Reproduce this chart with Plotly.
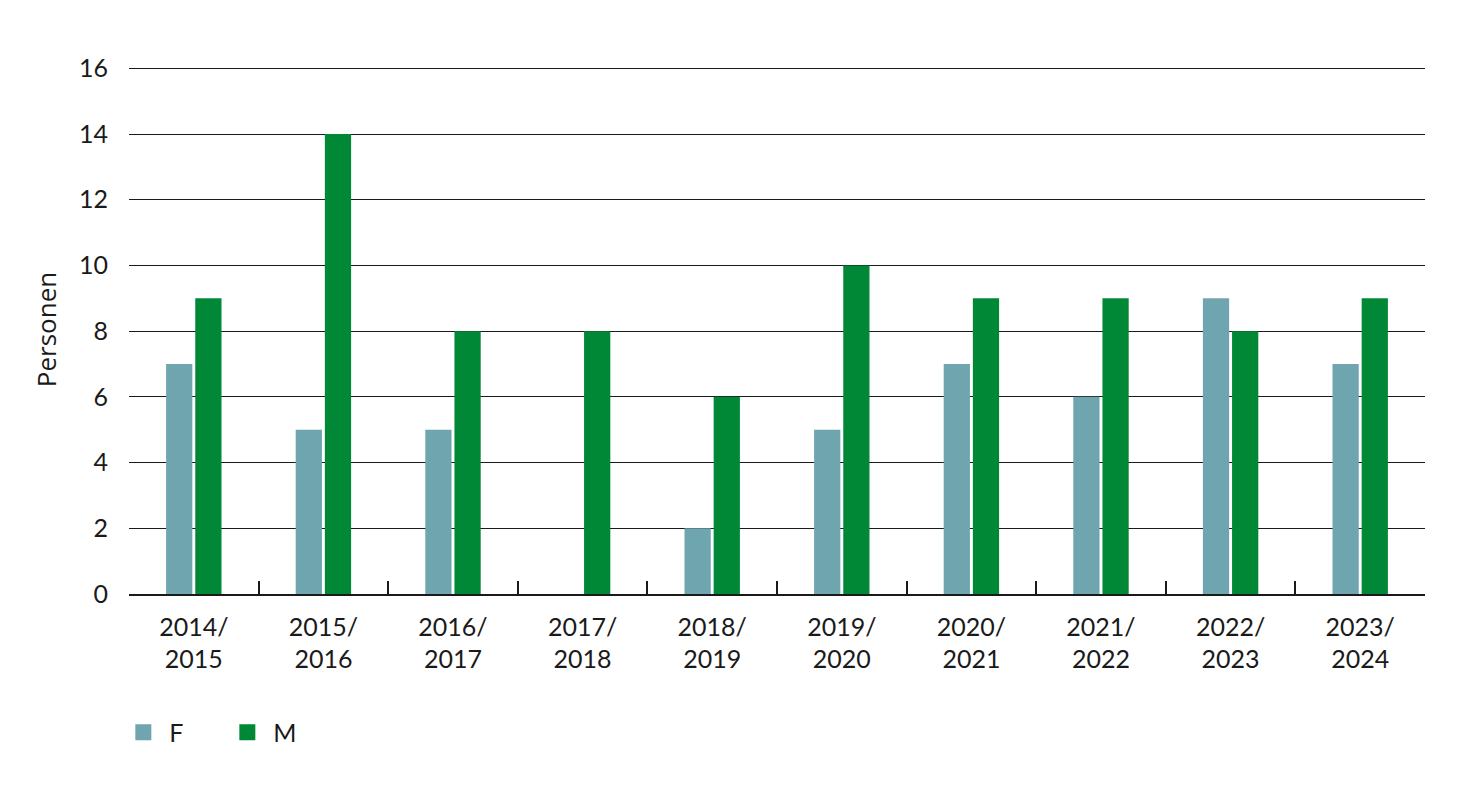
import plotly.graph_objects as go

categories = ["2014/<br>2015", "2015/<br>2016", "2016/<br>2017", "2017/<br>2018", "2018/<br>2019",
              "2019/<br>2020", "2020/<br>2021", "2021/<br>2022", "2022/<br>2023", "2023/<br>2024"]
f_values = [7, 5, 5, 0, 2, 5, 7, 6, 9, 7]
m_values = [9, 14, 8, 8, 6, 10, 9, 9, 8, 9]
y_ticks = [0, 2, 4, 6, 8, 10, 12, 14, 16]

F_COLOR = "#6fa5ae"
M_COLOR = "#008837"
FONT = "Lato, 'Open Sans', sans-serif"
FS = 25

fig = go.Figure()
fig.add_trace(go.Bar(x=categories, y=f_values, name="F", marker_color=F_COLOR,
                     marker_line_width=0, showlegend=False))
fig.add_trace(go.Bar(x=categories, y=m_values, name="M", marker_color=M_COLOR,
                     marker_line_width=0, showlegend=False))
# legend proxies with square markers
fig.add_trace(go.Scatter(x=[None], y=[None], mode="markers", name="F",
                         marker=dict(symbol="square", size=18, color=F_COLOR)))
fig.add_trace(go.Scatter(x=[None], y=[None], mode="markers", name="M",
                         marker=dict(symbol="square", size=18, color=M_COLOR)))

fig.update_layout(
    width=1475, height=788,
    margin=dict(l=121, r=58, t=57, b=202),
    paper_bgcolor="white", plot_bgcolor="white",
    font=dict(family=FONT, size=FS, color="#1a1a1a"),
    barmode="group", bargap=0.55, bargroupgap=0.1,
    showlegend=True,
    legend=dict(orientation="h", x=-0.009, xanchor="left", y=-0.262, yanchor="middle",
                font=dict(size=FS), itemwidth=42, tracegroupgap=0,
                entrywidth=47),
)
fig.update_xaxes(
    type="category", showline=True, linecolor="#1a1a1a", linewidth=1.5,
    ticks="inside", tickson="boundaries", ticklen=13, tickwidth=1.5, tickcolor="#1a1a1a",
    showgrid=False, tickfont=dict(size=FS), ticklabelstandoff=10,
)
fig.update_yaxes(
    range=[0, 16.1], tickvals=y_ticks, showgrid=True, gridcolor="#1a1a1a", gridwidth=1.3,
    zeroline=False, showline=False, ticks="", ticklabelstandoff=20,
    tickfont=dict(size=FS),
    title=dict(text="Personen", font=dict(size=26, family="'Open Sans', sans-serif"), standoff=14),
)
fig.write_html("out.html")
